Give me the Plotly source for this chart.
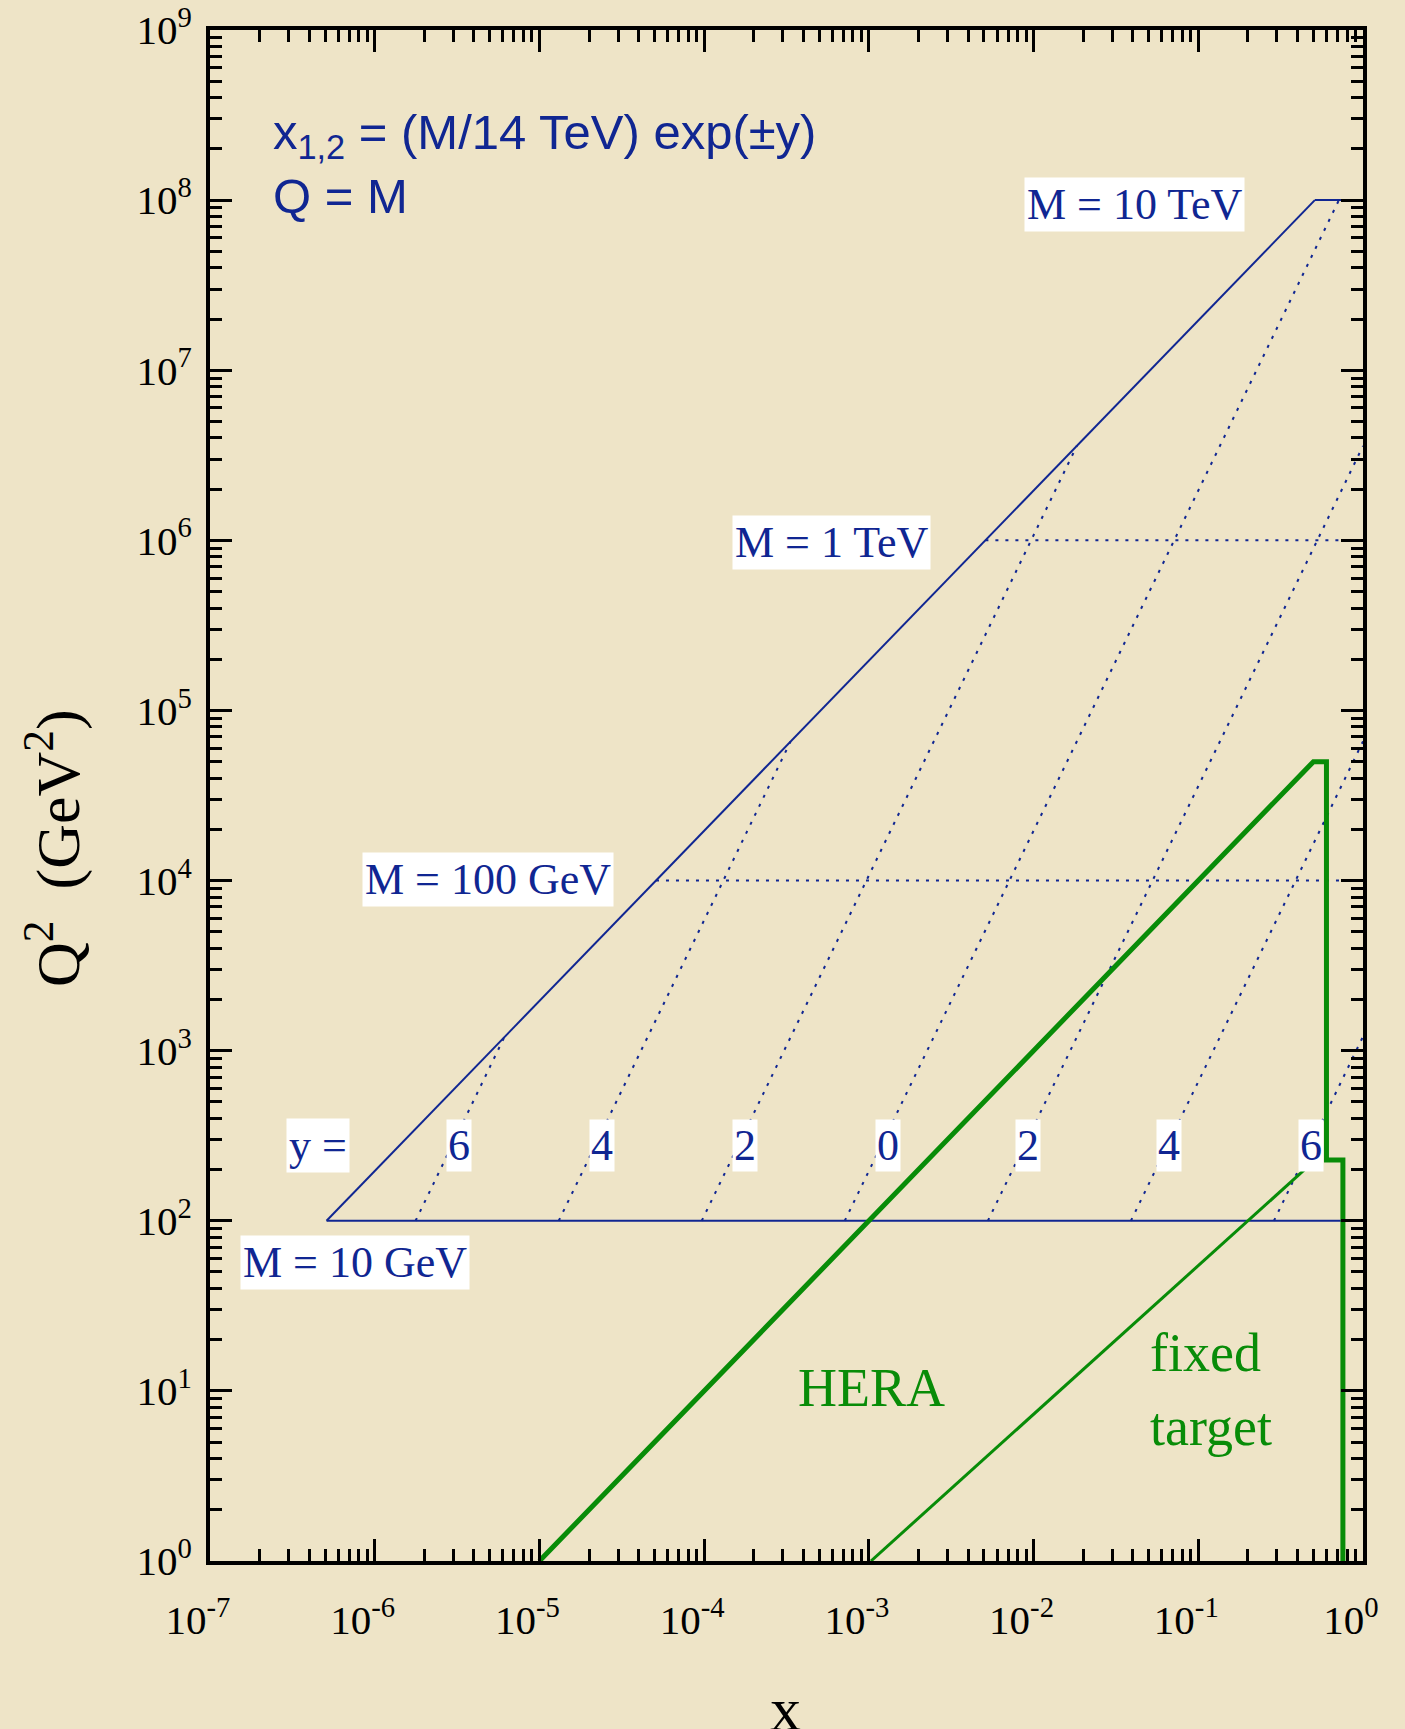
import plotly.graph_objects as go

# ---------------- data ----------------
# Mass lines Q = M : Q^2 level, x where line starts (kinematic limit), x where it ends
mass_labels = ["M = 10 GeV", "M = 100 GeV", "M = 1 TeV", "M = 10 TeV"]
mass_q2 = [1e2, 1e4, 1e6, 1e8]
mass_x_start = [5.1e-7, 5.1e-5, 5.1e-3, 0.51]
mass_x_end = [1.0, 1.0, 1.0, 1.0]

# kinematic limit (diagonal)
limit_x = [5.1e-7, 0.51]
limit_q2 = [1e2, 1e8]

# constant-rapidity lines
rapidity_labels = ["6", "4", "2", "0", "2", "4", "6"]
rap_x_low = [1.77e-6, 1.31e-5, 9.67e-5, 7.14e-4, 5.28e-3, 3.90e-2, 0.288]
rap_q2_low = [1e2, 1e2, 1e2, 1e2, 1e2, 1e2, 1e2]
rap_x_high = [6.14e-6, 3.35e-4, 1.83e-2, 0.714, 1.0, 1.0, 1.0]
rap_q2_high = [1.21e3, 6.58e4, 3.59e6, 1e8, 3.59e6, 6.58e4, 1.21e3]

# HERA region boundary
hera_x = [1e-5, 0.5, 0.6, 0.6, 0.755, 0.755]
hera_q2 = [1, 5e4, 5e4, 228, 228, 1]

# fixed target boundary
fixed_x = [1.03e-3, 0.44]
fixed_q2 = [1, 199]

# axis ticks
x_tick_vals = [1e-7, 1e-6, 1e-5, 1e-4, 1e-3, 1e-2, 1e-1, 1e0]
x_tick_text = ["10<sup>-7</sup>", "10<sup>-6</sup>", "10<sup>-5</sup>", "10<sup>-4</sup>",
               "10<sup>-3</sup>", "10<sup>-2</sup>", "10<sup>-1</sup>", "10<sup>0</sup>"]
y_tick_vals = [1e0, 1e1, 1e2, 1e3, 1e4, 1e5, 1e6, 1e7, 1e8, 1e9]
y_tick_text = ["10<sup>0</sup>", "10<sup>1</sup>", "10<sup>2</sup>", "10<sup>3</sup>",
               "10<sup>4</sup>", "10<sup>5</sup>", "10<sup>6</sup>", "10<sup>7</sup>",
               "10<sup>8</sup>", "10<sup>9</sup>"]

# ---------------- style ----------------
BLUE = "rgb(16,38,146)"
GREEN = "rgb(8,140,8)"
BG = "#EEE4C7"
SERIF = "Liberation Serif"
SANS = "Liberation Sans"

# plot-area pixel geometry
L, R, T, B = 210, 1363, 30, 1561
W, H = 1405, 1729


def px(xp):
    return (xp - L) / (R - L)


def py(yp):
    return (B - yp) / (B - T)


fig = go.Figure()

# kinematic limit diagonal
fig.add_trace(go.Scatter(x=limit_x, y=limit_q2, mode="lines",
                         line=dict(color=BLUE, width=2), hoverinfo="skip"))
# mass lines
for i in range(len(mass_q2)):
    solid = i in (0, len(mass_q2) - 1)
    fig.add_trace(go.Scatter(
        x=[mass_x_start[i], mass_x_end[i]], y=[mass_q2[i], mass_q2[i]], mode="lines",
        line=dict(color=BLUE, width=2, dash="solid" if solid else "3px,7px"),
        hoverinfo="skip"))
# rapidity lines
for i in range(len(rap_x_low)):
    fig.add_trace(go.Scatter(
        x=[rap_x_low[i], rap_x_high[i]], y=[rap_q2_low[i], rap_q2_high[i]], mode="lines",
        line=dict(color=BLUE, width=2, dash="3px,7px"), hoverinfo="skip"))
# HERA
fig.add_trace(go.Scatter(x=hera_x, y=hera_q2, mode="lines",
                         line=dict(color=GREEN, width=5), hoverinfo="skip"))
# fixed target
fig.add_trace(go.Scatter(x=fixed_x, y=fixed_q2, mode="lines",
                         line=dict(color=GREEN, width=3), hoverinfo="skip"))

ann = []
LABEL_FONT = dict(family=SERIF, size=44, color=BLUE)
# mass labels (white boxes), positions in log10 units
mass_label_pos = [(-6.119, 1.754), (-5.315, 4.009), (-3.227, 5.987), (-1.385, 7.977)]
for t, (lx, ly) in zip(mass_labels, mass_label_pos):
    ann.append(dict(x=lx, y=ly, xref="x", yref="y", text=t, showarrow=False,
                    font=LABEL_FONT, bgcolor="white", borderpad=2,
                    xanchor="center", yanchor="middle"))
# rapidity labels
rap_label_x = [-5.49, -4.618, -3.754, -2.884, -2.034, -1.176, -0.314]
RAP_Y = 2.44
ann.append(dict(x=-6.347, y=RAP_Y, xref="x", yref="y", text="y =", showarrow=False,
                font=LABEL_FONT, bgcolor="white", borderpad=2,
                xanchor="center", yanchor="middle"))
for t, lx in zip(rapidity_labels, rap_label_x):
    ann.append(dict(x=lx, y=RAP_Y, xref="x", yref="y", text=t, showarrow=False,
                    font=LABEL_FONT, bgcolor="white", borderpad=1,
                    xanchor="center", yanchor="middle"))

# formula text
ann.append(dict(x=px(271), y=py(135), xref="paper", yref="paper",
                text="x<sub>1,2</sub> = (M/14 TeV) exp(±y)", showarrow=False,
                font=dict(family=SANS, size=49, color=BLUE), xanchor="left", yanchor="middle"))
ann.append(dict(x=px(271), y=py(196), xref="paper", yref="paper",
                text="Q = M", showarrow=False,
                font=dict(family=SANS, size=49, color=BLUE), xanchor="left", yanchor="middle"))

# green labels
ann.append(dict(x=px(871), y=py(1388), xref="paper", yref="paper", text="HERA",
                showarrow=False, font=dict(family=SERIF, size=54, color=GREEN),
                xanchor="center", yanchor="middle"))
ann.append(dict(x=px(1148), y=py(1353), xref="paper", yref="paper", text="fixed",
                showarrow=False, font=dict(family=SERIF, size=54, color=GREEN),
                xanchor="left", yanchor="middle"))
ann.append(dict(x=px(1148), y=py(1427), xref="paper", yref="paper", text="target",
                showarrow=False, font=dict(family=SERIF, size=54, color=GREEN),
                xanchor="left", yanchor="middle"))

# axis titles
ann.append(dict(x=px(785), y=py(1709), xref="paper", yref="paper", text="x",
                showarrow=False, font=dict(family=SERIF, size=62, color="black"),
                xanchor="center", yanchor="middle"))
ann.append(dict(x=px(53), y=py(848), xref="paper", yref="paper",
                text="Q<sup>2</sup>\u00a0\u00a0(GeV<sup>2</sup>)", textangle=-90,
                showarrow=False, font=dict(family=SERIF, size=62, color="black"),
                xanchor="center", yanchor="middle"))

x_minor = [m * 10.0 ** e for e in range(-7, 0) for m in range(2, 10)]
y_minor = [m * 10.0 ** e for e in range(0, 9) for m in range(2, 10)]

axis_common = dict(type="log", showgrid=False, zeroline=False, showline=True,
                   automargin=False,
                   linecolor="black", linewidth=4, mirror="allticks",
                   ticks="inside", ticklen=22, tickwidth=3, tickcolor="black",
                   tickfont=dict(family=SERIF, size=41, color="black"))

fig.update_layout(
    width=W, height=H,
    margin=dict(l=L, r=W - R, t=T, b=H - B, autoexpand=False),
    paper_bgcolor=BG, plot_bgcolor=BG,
    showlegend=False,
    annotations=ann,
    xaxis=dict(range=[-7, 0], tickvals=x_tick_vals, ticktext=x_tick_text,
               ticklabelstandoff=20, ticklabelshift=-12,
               minor=dict(tickvals=x_minor, ticks="inside", ticklen=12, tickwidth=3,
                          tickcolor="black", showgrid=False),
               **axis_common),
    yaxis=dict(range=[0, 9], tickvals=y_tick_vals, ticktext=y_tick_text,
               ticklabelstandoff=6,
               minor=dict(tickvals=y_minor, ticks="inside", ticklen=12, tickwidth=3,
                          tickcolor="black", showgrid=False),
               **axis_common),
)

fig.write_html("out.html")
